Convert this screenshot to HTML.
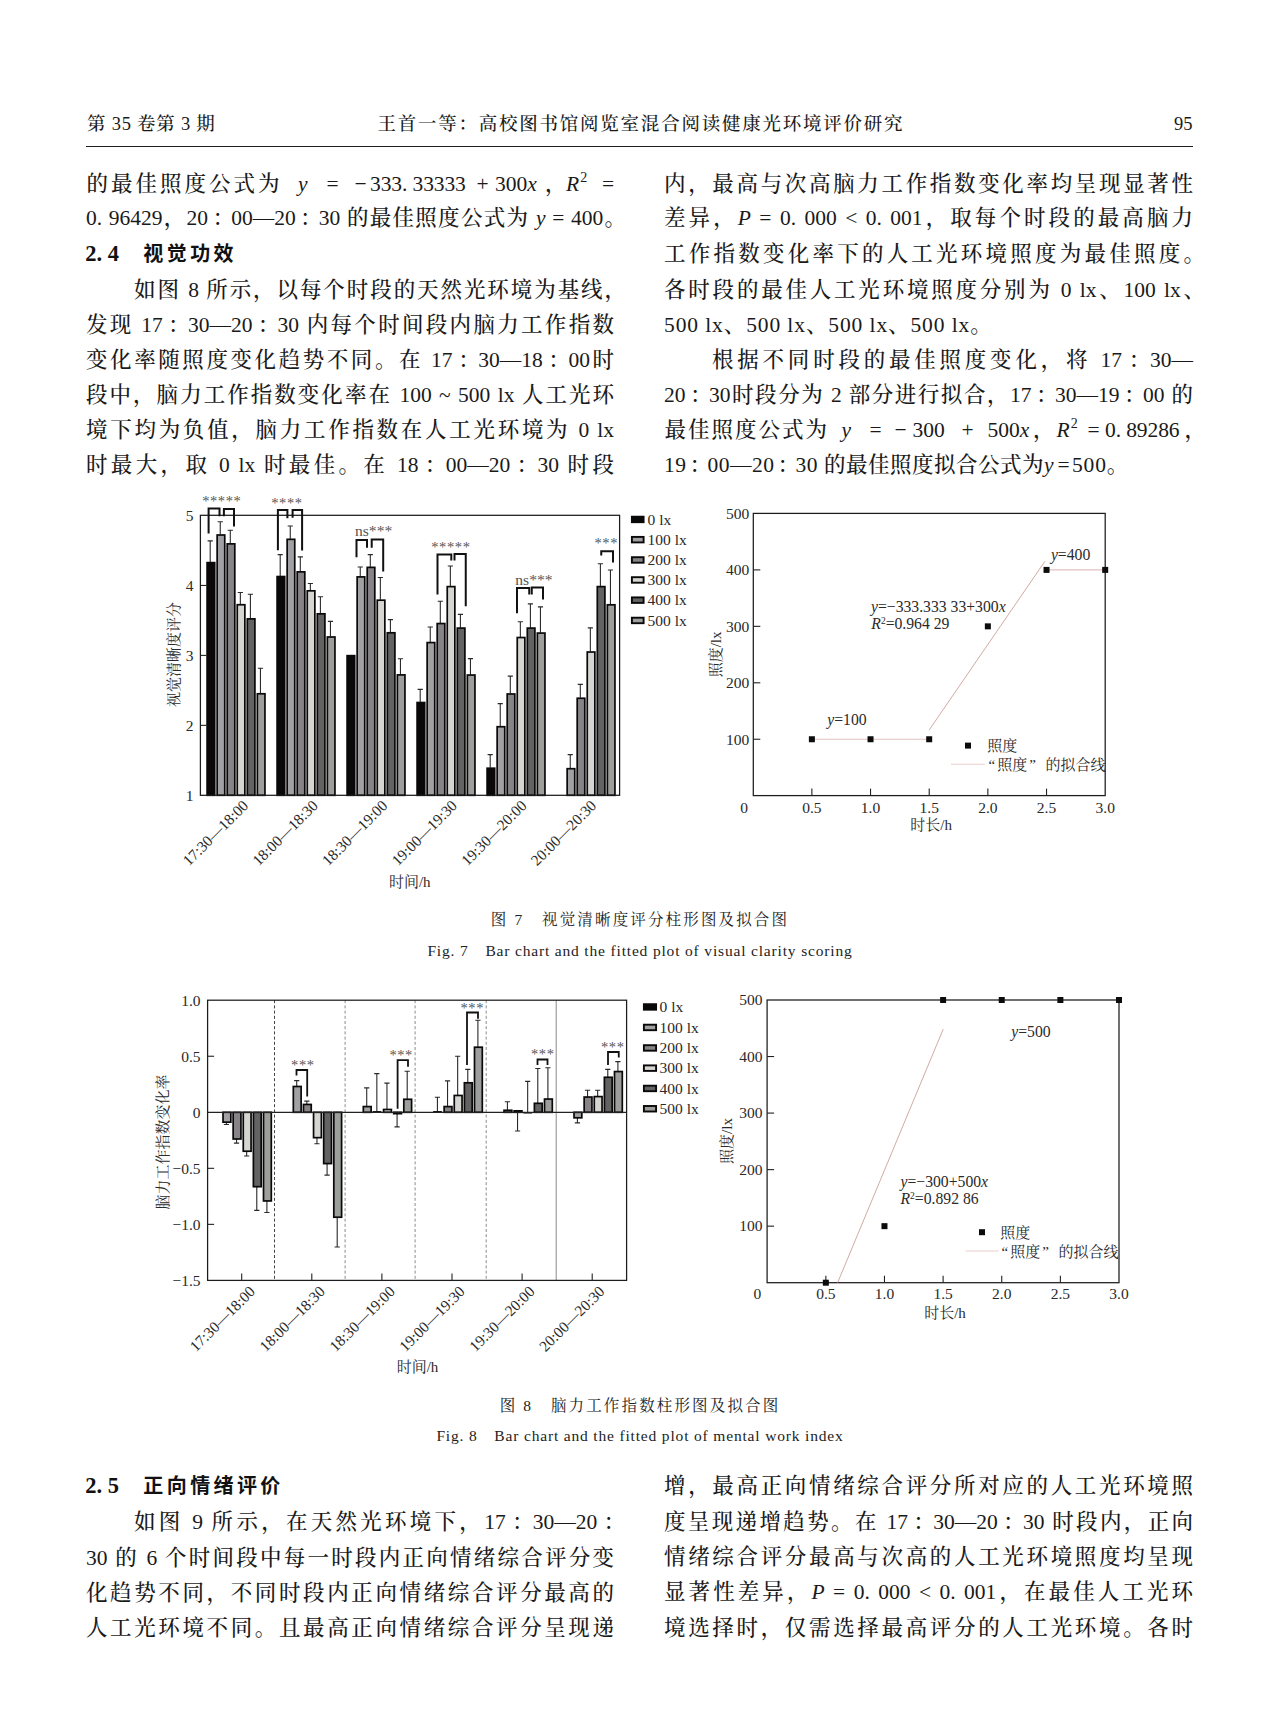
<!DOCTYPE html>
<html lang="zh-CN"><head><meta charset="utf-8"><title>page 95</title>
<style>
html,body{margin:0;padding:0;background:#fff;}
body{width:1279px;height:1730px;position:relative;overflow:hidden;color:#1a1a1a;font-family:"Liberation Serif", "Noto Serif CJK SC", serif;}
.t{position:absolute;height:34px;line-height:34px;font-size:21.5px;white-space:nowrap;text-align:justify;text-align-last:justify;font-family:"Liberation Serif", "Noto Serif CJK SC", serif;font-weight:500;}
.t.nj{text-align:left;text-align-last:left;letter-spacing:0.9px;}
.c{margin-left:3px;margin-right:-4px;}
.t.nj0{text-align:left;text-align-last:left;}
.t sup{font-size:14px;line-height:0;vertical-align:9.5px;margin-left:1px;}
.t i{font-family:"Liberation Serif",serif;}
.h2{position:absolute;height:34px;line-height:34px;font-size:20px;font-family:"Liberation Sans", "Noto Sans CJK SC", sans-serif;font-weight:700;white-space:nowrap;letter-spacing:3.4px;color:#111;}
.h2 .n{font-family:"Liberation Serif",serif;font-weight:bold;letter-spacing:0;font-size:22.5px;margin-right:1px;margin-left:-0.8px;}
.hd{position:absolute;height:28px;line-height:28px;font-size:18.5px;font-weight:500;white-space:nowrap;font-family:"Liberation Serif", "Noto Serif CJK SC", serif;}
.rule{position:absolute;left:86px;top:145.6px;width:1107px;height:1.6px;background:#1e1e1e;}
.cap{position:absolute;text-align:center;font-size:15.5px;height:22px;line-height:22px;white-space:nowrap;font-family:"Liberation Serif", "Noto Serif CJK SC", serif;color:#222;}
.cap.en{font-family:"Liberation Serif",serif;letter-spacing:0.83px;font-size:15.5px;}
svg{position:absolute;left:0;top:0;}
svg text{fill:#2a2a2a;}
</style></head>
<body>
<div class="hd" style="left:87px;top:110px;letter-spacing:0.75px;">第 35 卷第 3 期</div>
<div class="hd" style="left:377.5px;top:110px;width:525px;text-align:justify;text-align-last:justify;">王首一等：高校图书馆阅览室混合阅读健康光环境评价研究</div>
<div class="hd" style="left:1170px;top:110px;width:22.5px;text-align:right;">95</div>
<div class="rule"></div>
<div class="t" style="left:86px;top:200.5px;width:540px;">0. 96429，20<span class="c">：</span>00—20<span class="c">：</span>30 的最佳照度公式为 <i>y</i> = 400。</div>
<div class="t" style="left:134px;top:273.0px;width:492px;">如图 8 所示，以每个时段的天然光环境为基线，</div>
<div class="t" style="left:86px;top:308.0px;width:528px;">发现 17<span class="c">：</span>30—20<span class="c">：</span>30 内每个时间段内脑力工作指数</div>
<div class="t" style="left:86px;top:343.0px;width:528px;">变化率随照度变化趋势不同。在 17<span class="c">：</span>30—18<span class="c">：</span>00时</div>
<div class="t" style="left:86px;top:378.0px;width:528px;">段中，脑力工作指数变化率在 100 ~ 500 lx 人工光环</div>
<div class="t" style="left:86px;top:413.0px;width:528px;">境下均为负值，脑力工作指数在人工光环境为 0 lx</div>
<div class="t" style="left:86px;top:448.0px;width:528px;">时最大，取 0 lx 时最佳。在 18<span class="c">：</span>00—20<span class="c">：</span>30 时段</div>
<div class="h2" style="left:86px;top:236.5px;"><b class="n">2. 4</b>　视觉功效</div>
<div class="t" style="left:664px;top:167.0px;width:529px;">内，最高与次高脑力工作指数变化率均呈现显著性</div>
<div class="t" style="left:664px;top:201.0px;width:529px;">差异，<i>P</i> = 0. 000 &lt; 0. 001，取每个时段的最高脑力</div>
<div class="t" style="left:664px;top:237.0px;width:541px;">工作指数变化率下的人工光环境照度为最佳照度。</div>
<div class="t" style="left:664px;top:273.0px;width:541px;">各时段的最佳人工光环境照度分别为 0 lx、100 lx、</div>
<div class="t nj" style="left:664px;top:308.0px;width:529px;">500 lx、500 lx、500 lx、500 lx。</div>
<div class="t" style="left:712px;top:343.0px;width:481px;">根据不同时段的最佳照度变化，将 17<span class="c">：</span>30—</div>
<div class="t" style="left:664px;top:378.0px;width:529px;">20<span class="c">：</span>30时段分为 2 部分进行拟合，17<span class="c">：</span>30—19<span class="c">：</span>00 的</div>
<div class="t nj" style="left:664px;top:448.0px;width:529px;"><span style="letter-spacing:0.5px">19<span class="c">：</span>00—20<span class="c">：</span>30 的最佳照度拟合公式为</span><i>y</i><span style="margin:0 1.5px 0 3px">=</span>500。</div>
<div class="t nj0" style="left:0;top:167.0px;width:1279px;"><span style="position:absolute;left:86.5px;letter-spacing:3px">的最佳照度公式为</span><span style="position:absolute;left:298px;"><i>y</i></span><span style="position:absolute;left:326.5px;">=</span><span style="position:absolute;left:354.5px;">−</span><span style="position:absolute;left:370px;letter-spacing:-0.1px">333. 33333</span><span style="position:absolute;left:476.5px;">+</span><span style="position:absolute;left:495px;">300<i>x</i></span><span style="position:absolute;left:545px;">，</span><span style="position:absolute;left:566px;"><i>R</i><sup>2</sup></span><span style="position:absolute;left:602px;">=</span></div>
<div class="t nj0" style="left:0;top:413.0px;width:1279px;"><span style="position:absolute;left:664.5px;letter-spacing:2px">最佳照度公式为</span><span style="position:absolute;left:841.5px;"><i>y</i></span><span style="position:absolute;left:869.5px;">=</span><span style="position:absolute;left:894.5px;">−</span><span style="position:absolute;left:912.5px;">300</span><span style="position:absolute;left:961.5px;">+</span><span style="position:absolute;left:987.5px;">500<i>x</i></span><span style="position:absolute;left:1033px;">，</span><span style="position:absolute;left:1056.5px;"><i>R</i><sup>2</sup></span><span style="position:absolute;left:1087.5px;">=</span><span style="position:absolute;left:1105px;letter-spacing:-0.1px">0. 89286</span><span style="position:absolute;left:1184.5px;">，</span></div>
<div class="cap" style="left:340px;top:909px;width:600px;letter-spacing:2.15px;">图 7　视觉清晰度评分柱形图及拟合图</div>
<div class="cap en" style="left:340px;top:940px;width:600px;">Fig. 7　Bar chart and the fitted plot of visual clarity scoring</div>
<div class="cap" style="left:340px;top:1395px;width:600px;letter-spacing:2.15px;">图 8　脑力工作指数柱形图及拟合图</div>
<div class="cap en" style="left:340px;top:1425px;width:600px;">Fig. 8　Bar chart and the fitted plot of mental work index</div>
<div class="h2" style="left:86px;top:1469.0px;"><b class="n">2. 5</b>　正向情绪评价</div>
<div class="t" style="left:134px;top:1504.5px;width:487px;">如图 9 所示，在天然光环境下，17<span class="c">：</span>30—20<span class="c">：</span></div>
<div class="t" style="left:86px;top:1540.5px;width:528px;">30 的 6 个时间段中每一时段内正向情绪综合评分变</div>
<div class="t" style="left:86px;top:1575.5px;width:528px;">化趋势不同，不同时段内正向情绪综合评分最高的</div>
<div class="t" style="left:86px;top:1610.5px;width:528px;">人工光环境不同。且最高正向情绪综合评分呈现递</div>
<div class="t" style="left:664px;top:1469.0px;width:529px;">增，最高正向情绪综合评分所对应的人工光环境照</div>
<div class="t" style="left:664px;top:1504.5px;width:529px;">度呈现递增趋势。在 17<span class="c">：</span>30—20<span class="c">：</span>30 时段内，正向</div>
<div class="t" style="left:664px;top:1540.0px;width:529px;">情绪综合评分最高与次高的人工光环境照度均呈现</div>
<div class="t" style="left:664px;top:1575.0px;width:529px;">显著性差异，<i>P</i> = 0. 000 &lt; 0. 001，在最佳人工光环</div>
<div class="t" style="left:664px;top:1610.5px;width:529px;">境选择时，仅需选择最高评分的人工光环境。各时</div>
<svg width="1279" height="1730" viewBox="0 0 1279 1730">
<path d="M210.2 562.23V540.89M207.6 540.89H212.8" fill="none" stroke="#2a2a2a" stroke-width="1.1"/>
<rect x="207.1" y="562.63" width="7.6" height="232.67" fill="#0a0808" stroke="#0a0808" stroke-width="1.7"/>
<path d="M220.25 534.6V521.8M217.65 521.8H222.85" fill="none" stroke="#2a2a2a" stroke-width="1.1"/>
<rect x="217.15" y="535" width="7.6" height="260.3" fill="#a1a1a4" stroke="#0a0808" stroke-width="1.7"/>
<path d="M230.3 543.48V530.19M227.7 530.19H232.9" fill="none" stroke="#2a2a2a" stroke-width="1.1"/>
<rect x="227.2" y="543.88" width="7.6" height="251.42" fill="#868486" stroke="#0a0808" stroke-width="1.7"/>
<path d="M240.35 604.34V592.44M237.75 592.44H242.95" fill="none" stroke="#2a2a2a" stroke-width="1.1"/>
<rect x="237.25" y="604.74" width="7.6" height="190.56" fill="#d5d5d1" stroke="#0a0808" stroke-width="1.7"/>
<path d="M250.4 618.47V594.26M247.8 594.26H253" fill="none" stroke="#2a2a2a" stroke-width="1.1"/>
<rect x="247.3" y="618.87" width="7.6" height="176.43" fill="#636363" stroke="#0a0808" stroke-width="1.7"/>
<path d="M260.45 693.38V668.2M257.85 668.2H263.05" fill="none" stroke="#2a2a2a" stroke-width="1.1"/>
<rect x="257.35" y="693.78" width="7.6" height="101.52" fill="#9d9f9d" stroke="#0a0808" stroke-width="1.7"/>
<path d="M280.2 576.15V554.6M277.6 554.6H282.8" fill="none" stroke="#2a2a2a" stroke-width="1.1"/>
<rect x="277.1" y="576.55" width="7.6" height="218.75" fill="#0a0808" stroke="#0a0808" stroke-width="1.7"/>
<path d="M290.25 538.93V525.99M287.65 525.99H292.85" fill="none" stroke="#2a2a2a" stroke-width="1.1"/>
<rect x="287.15" y="539.33" width="7.6" height="255.97" fill="#a1a1a4" stroke="#0a0808" stroke-width="1.7"/>
<path d="M300.3 571.46V556.84M297.7 556.84H302.9" fill="none" stroke="#2a2a2a" stroke-width="1.1"/>
<rect x="297.2" y="571.86" width="7.6" height="223.44" fill="#868486" stroke="#0a0808" stroke-width="1.7"/>
<path d="M310.35 590.42V583.56M307.75 583.56H312.95" fill="none" stroke="#2a2a2a" stroke-width="1.1"/>
<rect x="307.25" y="590.82" width="7.6" height="204.48" fill="#d5d5d1" stroke="#0a0808" stroke-width="1.7"/>
<path d="M320.4 613.43V596.71M317.8 596.71H323" fill="none" stroke="#2a2a2a" stroke-width="1.1"/>
<rect x="317.3" y="613.83" width="7.6" height="181.47" fill="#636363" stroke="#0a0808" stroke-width="1.7"/>
<path d="M330.45 636.58V621.33M327.85 621.33H333.05" fill="none" stroke="#2a2a2a" stroke-width="1.1"/>
<rect x="327.35" y="636.98" width="7.6" height="158.32" fill="#9d9f9d" stroke="#0a0808" stroke-width="1.7"/>
<rect x="347.1" y="655.66" width="7.6" height="139.64" fill="#0a0808" stroke="#0a0808" stroke-width="1.7"/>
<path d="M360.25 576.5V566.98M357.65 566.98H362.85" fill="none" stroke="#2a2a2a" stroke-width="1.1"/>
<rect x="357.15" y="576.9" width="7.6" height="218.4" fill="#a1a1a4" stroke="#0a0808" stroke-width="1.7"/>
<path d="M370.3 566.98V554.6M367.7 554.6H372.9" fill="none" stroke="#2a2a2a" stroke-width="1.1"/>
<rect x="367.2" y="567.38" width="7.6" height="227.92" fill="#868486" stroke="#0a0808" stroke-width="1.7"/>
<path d="M380.35 599.79V577.48M377.75 577.48H382.95" fill="none" stroke="#2a2a2a" stroke-width="1.1"/>
<rect x="377.25" y="600.19" width="7.6" height="195.11" fill="#d5d5d1" stroke="#0a0808" stroke-width="1.7"/>
<path d="M390.4 632.39V619.59M387.8 619.59H393" fill="none" stroke="#2a2a2a" stroke-width="1.1"/>
<rect x="387.3" y="632.79" width="7.6" height="162.51" fill="#636363" stroke="#0a0808" stroke-width="1.7"/>
<path d="M400.45 674.5V658.69M397.85 658.69H403.05" fill="none" stroke="#2a2a2a" stroke-width="1.1"/>
<rect x="397.35" y="674.9" width="7.6" height="120.4" fill="#9d9f9d" stroke="#0a0808" stroke-width="1.7"/>
<path d="M420.2 702.13V689.4M417.6 689.4H422.8" fill="none" stroke="#2a2a2a" stroke-width="1.1"/>
<rect x="417.1" y="702.53" width="7.6" height="92.77" fill="#0a0808" stroke="#0a0808" stroke-width="1.7"/>
<path d="M430.25 642.18V626.93M427.65 626.93H432.85" fill="none" stroke="#2a2a2a" stroke-width="1.1"/>
<rect x="427.15" y="642.58" width="7.6" height="152.72" fill="#a1a1a4" stroke="#0a0808" stroke-width="1.7"/>
<path d="M440.3 623.15V601.19M437.7 601.19H442.9" fill="none" stroke="#2a2a2a" stroke-width="1.1"/>
<rect x="437.2" y="623.55" width="7.6" height="171.75" fill="#868486" stroke="#0a0808" stroke-width="1.7"/>
<path d="M450.35 586.22V565.93M447.75 565.93H452.95" fill="none" stroke="#2a2a2a" stroke-width="1.1"/>
<rect x="447.25" y="586.62" width="7.6" height="208.68" fill="#d5d5d1" stroke="#0a0808" stroke-width="1.7"/>
<path d="M460.4 627.7V614.41M457.8 614.41H463" fill="none" stroke="#2a2a2a" stroke-width="1.1"/>
<rect x="457.3" y="628.1" width="7.6" height="167.2" fill="#636363" stroke="#0a0808" stroke-width="1.7"/>
<path d="M470.45 674.64V658.62M467.85 658.62H473.05" fill="none" stroke="#2a2a2a" stroke-width="1.1"/>
<rect x="467.35" y="675.04" width="7.6" height="120.26" fill="#9d9f9d" stroke="#0a0808" stroke-width="1.7"/>
<path d="M490.2 767.81V754.59M487.6 754.59H492.8" fill="none" stroke="#2a2a2a" stroke-width="1.1"/>
<rect x="487.1" y="768.21" width="7.6" height="27.09" fill="#0a0808" stroke="#0a0808" stroke-width="1.7"/>
<path d="M500.25 726.33V703.6M497.65 703.6H502.85" fill="none" stroke="#2a2a2a" stroke-width="1.1"/>
<rect x="497.15" y="726.73" width="7.6" height="68.57" fill="#a1a1a4" stroke="#0a0808" stroke-width="1.7"/>
<path d="M510.3 693.59V676.11M507.7 676.11H512.9" fill="none" stroke="#2a2a2a" stroke-width="1.1"/>
<rect x="507.2" y="693.99" width="7.6" height="101.31" fill="#868486" stroke="#0a0808" stroke-width="1.7"/>
<path d="M520.35 637.14V621.68M517.75 621.68H522.95" fill="none" stroke="#2a2a2a" stroke-width="1.1"/>
<rect x="517.25" y="637.54" width="7.6" height="157.76" fill="#d5d5d1" stroke="#0a0808" stroke-width="1.7"/>
<path d="M530.4 627.7V603.92M527.8 603.92H533" fill="none" stroke="#2a2a2a" stroke-width="1.1"/>
<rect x="527.3" y="628.1" width="7.6" height="167.2" fill="#636363" stroke="#0a0808" stroke-width="1.7"/>
<path d="M540.45 632.67V606.92M537.85 606.92H543.05" fill="none" stroke="#2a2a2a" stroke-width="1.1"/>
<rect x="537.35" y="633.07" width="7.6" height="162.23" fill="#9d9f9d" stroke="#0a0808" stroke-width="1.7"/>
<path d="M570.25 768.3V754.59M567.65 754.59H572.85" fill="none" stroke="#2a2a2a" stroke-width="1.1"/>
<rect x="567.15" y="768.7" width="7.6" height="26.6" fill="#a1a1a4" stroke="#0a0808" stroke-width="1.7"/>
<path d="M580.3 697.86V684.36M577.7 684.36H582.9" fill="none" stroke="#2a2a2a" stroke-width="1.1"/>
<rect x="577.2" y="698.26" width="7.6" height="97.04" fill="#868486" stroke="#0a0808" stroke-width="1.7"/>
<path d="M590.35 651.62V627.91M587.75 627.91H592.95" fill="none" stroke="#2a2a2a" stroke-width="1.1"/>
<rect x="587.25" y="652.02" width="7.6" height="143.28" fill="#d5d5d1" stroke="#0a0808" stroke-width="1.7"/>
<path d="M600.4 586.22V563.7M597.8 563.7H603" fill="none" stroke="#2a2a2a" stroke-width="1.1"/>
<rect x="597.3" y="586.62" width="7.6" height="208.68" fill="#636363" stroke="#0a0808" stroke-width="1.7"/>
<path d="M610.45 604.41V569.99M607.85 569.99H613.05" fill="none" stroke="#2a2a2a" stroke-width="1.1"/>
<rect x="607.35" y="604.81" width="7.6" height="190.49" fill="#9d9f9d" stroke="#0a0808" stroke-width="1.7"/>
<rect x="200.4" y="515.3" width="419.2" height="280" fill="none" stroke="#1c1c1c" stroke-width="1.25"/>
<text x="193.5" y="800.5" font-size="15.5" text-anchor="end" font-family="Liberation Serif, serif">1</text>
<path d="M200.4 725.35h6" stroke="#222" stroke-width="1.1"/>
<text x="193.5" y="730.55" font-size="15.5" text-anchor="end" font-family="Liberation Serif, serif">2</text>
<path d="M200.4 655.4h6" stroke="#222" stroke-width="1.1"/>
<text x="193.5" y="660.6" font-size="15.5" text-anchor="end" font-family="Liberation Serif, serif">3</text>
<path d="M200.4 585.45h6" stroke="#222" stroke-width="1.1"/>
<text x="193.5" y="590.65" font-size="15.5" text-anchor="end" font-family="Liberation Serif, serif">4</text>
<text x="193.5" y="520.7" font-size="15.5" text-anchor="end" font-family="Liberation Serif, serif">5</text>
<text transform="translate(249.2,806.5) rotate(-45)" font-size="15.3" text-anchor="end" font-family="Liberation Serif, serif">17:30—18:00</text>
<text transform="translate(318.8,806.5) rotate(-45)" font-size="15.3" text-anchor="end" font-family="Liberation Serif, serif">18:00—18:30</text>
<text transform="translate(388.4,806.5) rotate(-45)" font-size="15.3" text-anchor="end" font-family="Liberation Serif, serif">18:30—19:00</text>
<text transform="translate(458,806.5) rotate(-45)" font-size="15.3" text-anchor="end" font-family="Liberation Serif, serif">19:00—19:30</text>
<text transform="translate(527.6,806.5) rotate(-45)" font-size="15.3" text-anchor="end" font-family="Liberation Serif, serif">19:30—20:00</text>
<text transform="translate(597.2,806.5) rotate(-45)" font-size="15.3" text-anchor="end" font-family="Liberation Serif, serif">20:00—20:30</text>
<text x="409.8" y="886.5" font-size="15" text-anchor="middle" font-family="Liberation Serif, Noto Serif CJK SC, serif">时间/h</text>
<text transform="translate(179.2,654.6) rotate(-90)" font-size="15" text-anchor="middle" font-family="Liberation Serif, Noto Serif CJK SC, serif">视觉清晰度评分</text>
<rect x="631.9" y="516.7" width="11.7" height="5.5" fill="#0a0808" stroke="#0a0808" stroke-width="1.9"/>
<text x="647.5" y="524.7" font-size="15.5" font-family="Liberation Serif, serif">0 lx</text>
<rect x="631.9" y="536.9" width="11.7" height="5.5" fill="#a1a1a4" stroke="#0a0808" stroke-width="1.9"/>
<text x="647.5" y="544.9" font-size="15.5" font-family="Liberation Serif, serif">100 lx</text>
<rect x="631.9" y="557.2" width="11.7" height="5.5" fill="#868486" stroke="#0a0808" stroke-width="1.9"/>
<text x="647.5" y="565.2" font-size="15.5" font-family="Liberation Serif, serif">200 lx</text>
<rect x="631.9" y="577.2" width="11.7" height="5.5" fill="#d5d5d1" stroke="#0a0808" stroke-width="1.9"/>
<text x="647.5" y="585.2" font-size="15.5" font-family="Liberation Serif, serif">300 lx</text>
<rect x="631.9" y="597.4" width="11.7" height="5.5" fill="#636363" stroke="#0a0808" stroke-width="1.9"/>
<text x="647.5" y="605.4" font-size="15.5" font-family="Liberation Serif, serif">400 lx</text>
<rect x="631.9" y="617.7" width="11.7" height="5.5" fill="#9d9f9d" stroke="#0a0808" stroke-width="1.9"/>
<text x="647.5" y="625.7" font-size="15.5" font-family="Liberation Serif, serif">500 lx</text>
<path d="M208.6 533.4V508.4H219.5V516.2" fill="none" stroke="#111" stroke-width="2" stroke-linejoin="miter"/>
<path d="M223.9 516.2V509H234V526.4" fill="none" stroke="#111" stroke-width="2" stroke-linejoin="miter"/>
<text x="221.8" y="506.01" font-size="14.5" letter-spacing="0.6" text-anchor="middle" font-family="Liberation Serif, serif" style="fill:#555">*****</text>
<path d="M277.9 550.2V510H287.4V518.2" fill="none" stroke="#111" stroke-width="2" stroke-linejoin="miter"/>
<path d="M292.6 517.8V510H302.1V550.6" fill="none" stroke="#111" stroke-width="2" stroke-linejoin="miter"/>
<text x="286.9" y="508.21" font-size="14.5" letter-spacing="0.6" text-anchor="middle" font-family="Liberation Serif, serif" style="fill:#555">****</text>
<path d="M356.5 557.3V540.1H367V547.7" fill="none" stroke="#111" stroke-width="2" stroke-linejoin="miter"/>
<path d="M371.7 547.7V539.5H383.2V571.6" fill="none" stroke="#111" stroke-width="2" stroke-linejoin="miter"/>
<path d="M437.5 594.5V554.5H451.3V560.5" fill="none" stroke="#111" stroke-width="2" stroke-linejoin="miter"/>
<path d="M454.5 560.5V554H465.75V606.25" fill="none" stroke="#111" stroke-width="2" stroke-linejoin="miter"/>
<text x="450.9" y="552.32" font-size="14.5" letter-spacing="0.6" text-anchor="middle" font-family="Liberation Serif, serif" style="fill:#555">*****</text>
<path d="M517 613.25V588H529.25V594.5" fill="none" stroke="#111" stroke-width="2" stroke-linejoin="miter"/>
<path d="M531.75 594.5V587.5H543V599.5" fill="none" stroke="#111" stroke-width="2" stroke-linejoin="miter"/>
<path d="M601.25 555.5V551.25H613V562.5" fill="none" stroke="#111" stroke-width="2" stroke-linejoin="miter"/>
<text x="606.3" y="548.12" font-size="14.5" letter-spacing="0.6" text-anchor="middle" font-family="Liberation Serif, serif" style="fill:#555">***</text>
<text x="355" y="535.5" font-size="15.6" font-family="Liberation Serif, serif" style="fill:#555">ns***</text>
<text x="515.3" y="585" font-size="15.6" font-family="Liberation Serif, serif" style="fill:#555">ns***</text>
<rect x="753.3" y="513.4" width="351.9" height="282.2" fill="none" stroke="#1c1c1c" stroke-width="1.25"/>
<path d="M811.87 739.25L929.2 739.25" stroke="#e3c2c0" stroke-width="1.1" fill="none"/>
<path d="M929.1 730.1L1045 561.2" stroke="#c99b94" stroke-width="0.85" fill="none"/>
<path d="M1046.53 569.9L1105.19 569.9" stroke="#e3c2c0" stroke-width="1.1" fill="none"/>
<path d="M753.3 739.25h7" stroke="#222" stroke-width="1.1"/>
<text x="749.2" y="744.55" font-size="15.5" text-anchor="end" font-family="Liberation Serif, serif">100</text>
<path d="M753.3 682.8h7" stroke="#222" stroke-width="1.1"/>
<text x="749.2" y="688.1" font-size="15.5" text-anchor="end" font-family="Liberation Serif, serif">200</text>
<path d="M753.3 626.35h7" stroke="#222" stroke-width="1.1"/>
<text x="749.2" y="631.65" font-size="15.5" text-anchor="end" font-family="Liberation Serif, serif">300</text>
<path d="M753.3 569.9h7" stroke="#222" stroke-width="1.1"/>
<text x="749.2" y="575.2" font-size="15.5" text-anchor="end" font-family="Liberation Serif, serif">400</text>
<text x="749.2" y="518.75" font-size="15.5" text-anchor="end" font-family="Liberation Serif, serif">500</text>
<path d="M811.87 795.6v-7" stroke="#222" stroke-width="1.1"/>
<text x="811.87" y="812.5" font-size="15.5" text-anchor="middle" font-family="Liberation Serif, serif">0.5</text>
<path d="M870.53 795.6v-7" stroke="#222" stroke-width="1.1"/>
<text x="870.53" y="812.5" font-size="15.5" text-anchor="middle" font-family="Liberation Serif, serif">1.0</text>
<path d="M929.2 795.6v-7" stroke="#222" stroke-width="1.1"/>
<text x="929.2" y="812.5" font-size="15.5" text-anchor="middle" font-family="Liberation Serif, serif">1.5</text>
<path d="M987.86 795.6v-7" stroke="#222" stroke-width="1.1"/>
<text x="987.86" y="812.5" font-size="15.5" text-anchor="middle" font-family="Liberation Serif, serif">2.0</text>
<path d="M1046.53 795.6v-7" stroke="#222" stroke-width="1.1"/>
<text x="1046.53" y="812.5" font-size="15.5" text-anchor="middle" font-family="Liberation Serif, serif">2.5</text>
<text x="1105.19" y="812.5" font-size="15.5" text-anchor="middle" font-family="Liberation Serif, serif">3.0</text>
<text x="744" y="812.5" font-size="15.5" text-anchor="middle" font-family="Liberation Serif, serif">0</text>
<rect x="808.87" y="736.25" width="6" height="6" fill="#0c0c0c"/>
<rect x="867.53" y="736.25" width="6" height="6" fill="#0c0c0c"/>
<rect x="926.2" y="736.25" width="6" height="6" fill="#0c0c0c"/>
<rect x="984.86" y="623.35" width="6" height="6" fill="#0c0c0c"/>
<rect x="1043.53" y="566.9" width="6" height="6" fill="#0c0c0c"/>
<rect x="1102.19" y="566.9" width="6" height="6" fill="#0c0c0c"/>
<text x="827.3" y="725" font-size="15.7" font-family="Liberation Serif, serif"><tspan font-style="italic">y</tspan>=100</text>
<text x="1050.9" y="559.8" font-size="15.7" font-family="Liberation Serif, serif"><tspan font-style="italic">y</tspan>=400</text>
<text x="871" y="612.1" font-size="15.7" font-family="Liberation Serif, serif"><tspan font-style="italic">y</tspan>=−333.333 33+300<tspan font-style="italic">x</tspan></text>
<text x="871.3" y="629.3" font-size="15.7" font-family="Liberation Serif, serif"><tspan font-style="italic">R</tspan><tspan font-size="9.5" dy="-5">2</tspan><tspan dy="5">=0.964 29</tspan></text>
<rect x="965" y="742.6" width="6" height="6" fill="#0c0c0c"/>
<text x="987.2" y="751.1" font-size="15" font-family="Liberation Serif, Noto Serif CJK SC, serif">照度</text>
<path d="M951 764.3H984.8" stroke="#e8cecb" stroke-width="1.1"/>
<text y="769.8" font-size="15" font-family="Liberation Serif, Noto Serif CJK SC, serif"><tspan x="988.4">“</tspan><tspan x="997.2">照度</tspan><tspan x="1029.2">”</tspan><tspan x="1045.5">的拟合线</tspan></text>
<text x="931.2" y="829.9" font-size="15" text-anchor="middle" font-family="Liberation Serif, Noto Serif CJK SC, serif">时长/h</text>
<text transform="translate(720.8,654.4) rotate(-90)" font-size="15" text-anchor="middle" font-family="Liberation Serif, Noto Serif CJK SC, serif">照度/lx</text>
<path d="M274.5 1000.2V1280.4" stroke="#444" stroke-width="1" stroke-dasharray="3 2.2"/>
<path d="M345.1 1000.2V1280.4" stroke="#8c8c8c" stroke-width="1" stroke-dasharray="3 2.2"/>
<path d="M415.1 1000.2V1280.4" stroke="#8c8c8c" stroke-width="1" stroke-dasharray="3 2.2"/>
<path d="M486.2 1000.2V1280.4" stroke="#8c8c8c" stroke-width="1" stroke-dasharray="3 2.2"/>
<path d="M556.2 1000.2V1280.4" stroke="#8c8c8c" stroke-width="1"/>
<path d="M226.42 1122.17V1124.53M223.82 1124.53H229.02" fill="none" stroke="#2a2a2a" stroke-width="1.1"/>
<rect x="223.02" y="1112.3" width="7.8" height="9.87" fill="#a1a1a4" stroke="#0a0808" stroke-width="1.7"/>
<path d="M236.54 1139V1143.15M233.94 1143.15H239.14" fill="none" stroke="#2a2a2a" stroke-width="1.1"/>
<rect x="233.14" y="1112.3" width="7.8" height="26.7" fill="#868486" stroke="#0a0808" stroke-width="1.7"/>
<path d="M246.66 1151.23V1156.06M244.06 1156.06H249.26" fill="none" stroke="#2a2a2a" stroke-width="1.1"/>
<rect x="243.26" y="1112.3" width="7.8" height="38.93" fill="#d5d5d1" stroke="#0a0808" stroke-width="1.7"/>
<path d="M256.78 1186.69V1210.36M254.18 1210.36H259.38" fill="none" stroke="#2a2a2a" stroke-width="1.1"/>
<rect x="253.38" y="1112.3" width="7.8" height="74.39" fill="#636363" stroke="#0a0808" stroke-width="1.7"/>
<path d="M266.9 1200.94V1212.49M264.3 1212.49H269.5" fill="none" stroke="#2a2a2a" stroke-width="1.1"/>
<rect x="263.5" y="1112.3" width="7.8" height="88.64" fill="#9d9f9d" stroke="#0a0808" stroke-width="1.7"/>
<path d="M296.72 1086.49V1080.66M294.12 1080.66H299.32" fill="none" stroke="#2a2a2a" stroke-width="1.1"/>
<rect x="293.32" y="1086.49" width="7.8" height="25.81" fill="#a1a1a4" stroke="#0a0808" stroke-width="1.7"/>
<path d="M306.84 1104.45V1101.08M304.24 1101.08H309.44" fill="none" stroke="#2a2a2a" stroke-width="1.1"/>
<rect x="303.44" y="1104.45" width="7.8" height="7.85" fill="#868486" stroke="#0a0808" stroke-width="1.7"/>
<path d="M316.96 1137.66V1143.72M314.36 1143.72H319.56" fill="none" stroke="#2a2a2a" stroke-width="1.1"/>
<rect x="313.56" y="1112.3" width="7.8" height="25.36" fill="#d5d5d1" stroke="#0a0808" stroke-width="1.7"/>
<path d="M327.08 1163.58V1175.13M324.48 1175.13H329.68" fill="none" stroke="#2a2a2a" stroke-width="1.1"/>
<rect x="323.68" y="1112.3" width="7.8" height="51.28" fill="#636363" stroke="#0a0808" stroke-width="1.7"/>
<path d="M337.2 1217.21V1246.94M334.6 1246.94H339.8" fill="none" stroke="#2a2a2a" stroke-width="1.1"/>
<rect x="333.8" y="1112.3" width="7.8" height="104.91" fill="#9d9f9d" stroke="#0a0808" stroke-width="1.7"/>
<path d="M366.72 1106.58V1087.84M364.12 1087.84H369.32" fill="none" stroke="#2a2a2a" stroke-width="1.1"/>
<rect x="363.32" y="1106.58" width="7.8" height="5.72" fill="#a1a1a4" stroke="#0a0808" stroke-width="1.7"/>
<path d="M376.84 1111.74V1073.59M374.24 1073.59H379.44" fill="none" stroke="#2a2a2a" stroke-width="1.1"/>
<path d="M372.54 1111.74h8.8" stroke="#0c0c0c" stroke-width="1.4"/>
<path d="M386.96 1109.49V1083.13M384.36 1083.13H389.56" fill="none" stroke="#2a2a2a" stroke-width="1.1"/>
<rect x="383.56" y="1109.49" width="7.8" height="2.81" fill="#d5d5d1" stroke="#0a0808" stroke-width="1.7"/>
<path d="M397.08 1113.65V1126.89M394.48 1126.89H399.68" fill="none" stroke="#2a2a2a" stroke-width="1.1"/>
<rect x="393.68" y="1112.3" width="7.8" height="1.35" fill="#636363" stroke="#0a0808" stroke-width="1.7"/>
<path d="M407.2 1099.28V1071.23M404.6 1071.23H409.8" fill="none" stroke="#2a2a2a" stroke-width="1.1"/>
<rect x="403.8" y="1099.28" width="7.8" height="13.02" fill="#9d9f9d" stroke="#0a0808" stroke-width="1.7"/>
<path d="M437.42 1111.74V1097.27M434.82 1097.27H440.02" fill="none" stroke="#2a2a2a" stroke-width="1.1"/>
<path d="M433.12 1111.74h8.8" stroke="#0c0c0c" stroke-width="1.4"/>
<path d="M447.54 1106.58V1080.88M444.94 1080.88H450.14" fill="none" stroke="#2a2a2a" stroke-width="1.1"/>
<rect x="444.14" y="1106.58" width="7.8" height="5.72" fill="#868486" stroke="#0a0808" stroke-width="1.7"/>
<path d="M457.66 1095.47V1056.2M455.06 1056.2H460.26" fill="none" stroke="#2a2a2a" stroke-width="1.1"/>
<rect x="454.26" y="1095.47" width="7.8" height="16.83" fill="#d5d5d1" stroke="#0a0808" stroke-width="1.7"/>
<path d="M467.78 1082.79V1069.33M465.18 1069.33H470.38" fill="none" stroke="#2a2a2a" stroke-width="1.1"/>
<rect x="464.38" y="1082.79" width="7.8" height="29.51" fill="#636363" stroke="#0a0808" stroke-width="1.7"/>
<path d="M477.9 1047.22V1020.3M475.3 1020.3H480.5" fill="none" stroke="#2a2a2a" stroke-width="1.1"/>
<rect x="474.5" y="1047.22" width="7.8" height="65.08" fill="#9d9f9d" stroke="#0a0808" stroke-width="1.7"/>
<path d="M507.42 1110.28V1101.75M504.82 1101.75H510.02" fill="none" stroke="#2a2a2a" stroke-width="1.1"/>
<rect x="504.02" y="1110.28" width="7.8" height="2.02" fill="#a1a1a4" stroke="#0a0808" stroke-width="1.7"/>
<path d="M517.54 1110.84V1131.04M514.94 1131.04H520.14" fill="none" stroke="#2a2a2a" stroke-width="1.1"/>
<rect x="514.14" y="1110.84" width="7.8" height="1.46" fill="#868486" stroke="#0a0808" stroke-width="1.7"/>
<path d="M527.66 1112.86V1081.33M525.06 1081.33H530.26" fill="none" stroke="#2a2a2a" stroke-width="1.1"/>
<path d="M523.36 1112.86h8.8" stroke="#0c0c0c" stroke-width="1.4"/>
<path d="M537.78 1103.32V1068.54M535.18 1068.54H540.38" fill="none" stroke="#2a2a2a" stroke-width="1.1"/>
<rect x="534.38" y="1103.32" width="7.8" height="8.98" fill="#636363" stroke="#0a0808" stroke-width="1.7"/>
<path d="M547.9 1099.06V1067.76M545.3 1067.76H550.5" fill="none" stroke="#2a2a2a" stroke-width="1.1"/>
<rect x="544.5" y="1099.06" width="7.8" height="13.24" fill="#9d9f9d" stroke="#0a0808" stroke-width="1.7"/>
<path d="M577.42 1117.8V1122.85M574.82 1122.85H580.02" fill="none" stroke="#2a2a2a" stroke-width="1.1"/>
<rect x="574.02" y="1112.3" width="7.8" height="5.5" fill="#a1a1a4" stroke="#0a0808" stroke-width="1.7"/>
<path d="M587.54 1097.04V1090.31M584.94 1090.31H590.14" fill="none" stroke="#2a2a2a" stroke-width="1.1"/>
<rect x="584.14" y="1097.04" width="7.8" height="15.26" fill="#868486" stroke="#0a0808" stroke-width="1.7"/>
<path d="M597.66 1096.59V1090.31M595.06 1090.31H600.26" fill="none" stroke="#2a2a2a" stroke-width="1.1"/>
<rect x="594.26" y="1096.59" width="7.8" height="15.71" fill="#d5d5d1" stroke="#0a0808" stroke-width="1.7"/>
<path d="M607.78 1077.29V1069.33M605.18 1069.33H610.38" fill="none" stroke="#2a2a2a" stroke-width="1.1"/>
<rect x="604.38" y="1077.29" width="7.8" height="35.01" fill="#636363" stroke="#0a0808" stroke-width="1.7"/>
<path d="M617.9 1071.57V1061.59M615.3 1061.59H620.5" fill="none" stroke="#2a2a2a" stroke-width="1.1"/>
<rect x="614.5" y="1071.57" width="7.8" height="40.73" fill="#9d9f9d" stroke="#0a0808" stroke-width="1.7"/>
<rect x="207.6" y="1000.2" width="419" height="280.2" fill="none" stroke="#1c1c1c" stroke-width="1.25"/>
<path d="M207.6 1112.3H626.6" stroke="#222" stroke-width="1.3"/>
<text x="200.6" y="1005.6" font-size="15.5" text-anchor="end" font-family="Liberation Serif, serif">1.0</text>
<path d="M207.6 1056.24h6.5" stroke="#222" stroke-width="1.1"/>
<text x="200.6" y="1061.64" font-size="15.5" text-anchor="end" font-family="Liberation Serif, serif">0.5</text>
<text x="200.6" y="1117.68" font-size="15.5" text-anchor="end" font-family="Liberation Serif, serif">0</text>
<path d="M207.6 1168.32h6.5" stroke="#222" stroke-width="1.1"/>
<text x="200.6" y="1173.72" font-size="15.5" text-anchor="end" font-family="Liberation Serif, serif">−0.5</text>
<path d="M207.6 1224.36h6.5" stroke="#222" stroke-width="1.1"/>
<text x="200.6" y="1229.76" font-size="15.5" text-anchor="end" font-family="Liberation Serif, serif">−1.0</text>
<text x="200.6" y="1285.8" font-size="15.5" text-anchor="end" font-family="Liberation Serif, serif">−1.5</text>
<path d="M241.7 1280.4v-7" stroke="#222" stroke-width="1.1"/>
<text transform="translate(256,1292.4) rotate(-45)" font-size="15.3" text-anchor="end" font-family="Liberation Serif, serif">17:30—18:00</text>
<path d="M311.8 1280.4v-7" stroke="#222" stroke-width="1.1"/>
<text transform="translate(325.9,1292.4) rotate(-45)" font-size="15.3" text-anchor="end" font-family="Liberation Serif, serif">18:00—18:30</text>
<path d="M381.9 1280.4v-7" stroke="#222" stroke-width="1.1"/>
<text transform="translate(395.8,1292.4) rotate(-45)" font-size="15.3" text-anchor="end" font-family="Liberation Serif, serif">18:30—19:00</text>
<path d="M452 1280.4v-7" stroke="#222" stroke-width="1.1"/>
<text transform="translate(465.7,1292.4) rotate(-45)" font-size="15.3" text-anchor="end" font-family="Liberation Serif, serif">19:00—19:30</text>
<path d="M522.1 1280.4v-7" stroke="#222" stroke-width="1.1"/>
<text transform="translate(535.6,1292.4) rotate(-45)" font-size="15.3" text-anchor="end" font-family="Liberation Serif, serif">19:30—20:00</text>
<path d="M592.2 1280.4v-7" stroke="#222" stroke-width="1.1"/>
<text transform="translate(605.5,1292.4) rotate(-45)" font-size="15.3" text-anchor="end" font-family="Liberation Serif, serif">20:00—20:30</text>
<text x="417.5" y="1372.2" font-size="15" text-anchor="middle" font-family="Liberation Serif, Noto Serif CJK SC, serif">时间/h</text>
<text transform="translate(168,1142) rotate(-90)" font-size="15" text-anchor="middle" font-family="Liberation Serif, Noto Serif CJK SC, serif">脑力工作指数变化率</text>
<rect x="643.9" y="1004.2" width="12.2" height="5.5" fill="#0a0808" stroke="#0a0808" stroke-width="1.9"/>
<text x="659.5" y="1012.2" font-size="15.5" font-family="Liberation Serif, serif">0 lx</text>
<rect x="643.9" y="1024.7" width="12.2" height="5.5" fill="#a1a1a4" stroke="#0a0808" stroke-width="1.9"/>
<text x="659.5" y="1032.7" font-size="15.5" font-family="Liberation Serif, serif">100 lx</text>
<rect x="643.9" y="1045.2" width="12.2" height="5.5" fill="#868486" stroke="#0a0808" stroke-width="1.9"/>
<text x="659.5" y="1053.2" font-size="15.5" font-family="Liberation Serif, serif">200 lx</text>
<rect x="643.9" y="1065.4" width="12.2" height="5.5" fill="#d5d5d1" stroke="#0a0808" stroke-width="1.9"/>
<text x="659.5" y="1073.4" font-size="15.5" font-family="Liberation Serif, serif">300 lx</text>
<rect x="643.9" y="1085.7" width="12.2" height="5.5" fill="#636363" stroke="#0a0808" stroke-width="1.9"/>
<text x="659.5" y="1093.7" font-size="15.5" font-family="Liberation Serif, serif">400 lx</text>
<rect x="643.9" y="1106" width="12.2" height="5.5" fill="#9d9f9d" stroke="#0a0808" stroke-width="1.9"/>
<text x="659.5" y="1114" font-size="15.5" font-family="Liberation Serif, serif">500 lx</text>
<path d="M296.5 1075.4V1070H307.2V1096.4" fill="none" stroke="#111" stroke-width="1.8" stroke-linejoin="miter"/>
<text x="302.9" y="1069.82" font-size="14.5" letter-spacing="0.6" text-anchor="middle" font-family="Liberation Serif, serif" style="fill:#555">***</text>
<path d="M397.6 1108.8V1060.2H408V1066.8" fill="none" stroke="#111" stroke-width="1.8" stroke-linejoin="miter"/>
<text x="401.2" y="1059.82" font-size="14.5" letter-spacing="0.6" text-anchor="middle" font-family="Liberation Serif, serif" style="fill:#555">***</text>
<path d="M467 1065V1012.5H478V1018.75" fill="none" stroke="#111" stroke-width="1.8" stroke-linejoin="miter"/>
<text x="472.3" y="1012.82" font-size="14.5" letter-spacing="0.6" text-anchor="middle" font-family="Liberation Serif, serif" style="fill:#555">***</text>
<path d="M537.5 1065V1059.5H547.5V1065" fill="none" stroke="#111" stroke-width="1.8" stroke-linejoin="miter"/>
<text x="542.8" y="1058.62" font-size="14.5" letter-spacing="0.6" text-anchor="middle" font-family="Liberation Serif, serif" style="fill:#555">***</text>
<path d="M608 1065V1052H618.75V1057.5" fill="none" stroke="#111" stroke-width="1.8" stroke-linejoin="miter"/>
<text x="612.8" y="1051.82" font-size="14.5" letter-spacing="0.6" text-anchor="middle" font-family="Liberation Serif, serif" style="fill:#555">***</text>
<rect x="767.1" y="1000" width="351.9" height="282.7" fill="none" stroke="#1c1c1c" stroke-width="1.25"/>
<path d="M837.6 1282.7L943.2 1029.2" stroke="#c99b94" stroke-width="0.85" fill="none"/>
<path d="M767.1 1226.16h7" stroke="#222" stroke-width="1.1"/>
<text x="762.6" y="1231.46" font-size="15.5" text-anchor="end" font-family="Liberation Serif, serif">100</text>
<path d="M767.1 1169.62h7" stroke="#222" stroke-width="1.1"/>
<text x="762.6" y="1174.92" font-size="15.5" text-anchor="end" font-family="Liberation Serif, serif">200</text>
<path d="M767.1 1113.08h7" stroke="#222" stroke-width="1.1"/>
<text x="762.6" y="1118.38" font-size="15.5" text-anchor="end" font-family="Liberation Serif, serif">300</text>
<path d="M767.1 1056.54h7" stroke="#222" stroke-width="1.1"/>
<text x="762.6" y="1061.84" font-size="15.5" text-anchor="end" font-family="Liberation Serif, serif">400</text>
<text x="762.6" y="1005.3" font-size="15.5" text-anchor="end" font-family="Liberation Serif, serif">500</text>
<path d="M825.84 1282.7v-7" stroke="#222" stroke-width="1.1"/>
<text x="825.84" y="1299" font-size="15.5" text-anchor="middle" font-family="Liberation Serif, serif">0.5</text>
<path d="M884.47 1282.7v-7" stroke="#222" stroke-width="1.1"/>
<text x="884.47" y="1299" font-size="15.5" text-anchor="middle" font-family="Liberation Serif, serif">1.0</text>
<path d="M943.11 1282.7v-7" stroke="#222" stroke-width="1.1"/>
<text x="943.11" y="1299" font-size="15.5" text-anchor="middle" font-family="Liberation Serif, serif">1.5</text>
<path d="M1001.74 1282.7v-7" stroke="#222" stroke-width="1.1"/>
<text x="1001.74" y="1299" font-size="15.5" text-anchor="middle" font-family="Liberation Serif, serif">2.0</text>
<path d="M1060.38 1282.7v-7" stroke="#222" stroke-width="1.1"/>
<text x="1060.38" y="1299" font-size="15.5" text-anchor="middle" font-family="Liberation Serif, serif">2.5</text>
<text x="1119.01" y="1299" font-size="15.5" text-anchor="middle" font-family="Liberation Serif, serif">3.0</text>
<text x="757.4" y="1299" font-size="15.5" text-anchor="middle" font-family="Liberation Serif, serif">0</text>
<rect x="822.84" y="1279.7" width="6" height="6" fill="#0c0c0c"/>
<rect x="881.47" y="1223.16" width="6" height="6" fill="#0c0c0c"/>
<rect x="940.11" y="997" width="6" height="6" fill="#0c0c0c"/>
<rect x="998.74" y="997" width="6" height="6" fill="#0c0c0c"/>
<rect x="1057.38" y="997" width="6" height="6" fill="#0c0c0c"/>
<rect x="1116.01" y="997" width="6" height="6" fill="#0c0c0c"/>
<text x="1011.3" y="1036.8" font-size="15.7" font-family="Liberation Serif, serif"><tspan font-style="italic">y</tspan>=500</text>
<text x="900.5" y="1187.4" font-size="15.7" font-family="Liberation Serif, serif"><tspan font-style="italic">y</tspan>=−300+500<tspan font-style="italic">x</tspan></text>
<text x="900.5" y="1204.3" font-size="15.7" font-family="Liberation Serif, serif"><tspan font-style="italic">R</tspan><tspan font-size="9.5" dy="-5">2</tspan><tspan dy="5">=0.892 86</tspan></text>
<rect x="979" y="1229.2" width="6" height="6" fill="#0c0c0c"/>
<text x="1000.3" y="1237.7" font-size="15" font-family="Liberation Serif, Noto Serif CJK SC, serif">照度</text>
<path d="M965.6 1251H998.6" stroke="#e8cecb" stroke-width="1.1"/>
<text y="1256.5" font-size="15" font-family="Liberation Serif, Noto Serif CJK SC, serif"><tspan x="1001.5">“</tspan><tspan x="1010.3">照度</tspan><tspan x="1042.3">”</tspan><tspan x="1058.6">的拟合线</tspan></text>
<text x="945" y="1317.5" font-size="15" text-anchor="middle" font-family="Liberation Serif, Noto Serif CJK SC, serif">时长/h</text>
<text transform="translate(731.7,1141) rotate(-90)" font-size="15" text-anchor="middle" font-family="Liberation Serif, Noto Serif CJK SC, serif">照度/lx</text>
</svg>
</body></html>
